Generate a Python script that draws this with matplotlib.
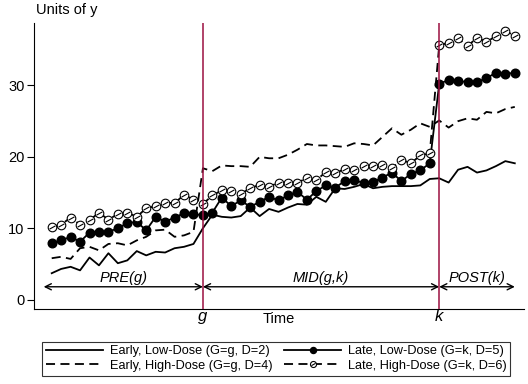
import matplotlib
matplotlib.use("Agg")
import matplotlib.pyplot as plt

# Data
periods = list(range(1, 51))
g_period = 17
k_period = 42

early_low = [3.7, 4.3, 4.6, 4.1, 5.9, 4.8, 6.5, 5.1, 5.5, 6.8, 6.2, 6.7, 6.6, 7.2, 7.4, 7.8,
             10.0, 11.9, 11.6, 11.5, 11.7, 12.9, 11.7, 12.7, 12.3, 12.9, 13.4, 13.3, 14.4,
             13.7, 15.6, 15.5, 15.8, 16.2, 15.6, 15.8, 15.9, 15.9, 15.9, 16.0, 16.9,
             17.0, 16.4, 18.2, 18.6, 17.8, 18.1, 18.7, 19.4, 19.1]

early_high = [5.8, 6.0, 5.7, 7.2, 7.4, 6.9, 7.8, 7.9, 7.6, 8.3, 8.8, 9.7, 9.8, 8.8, 9.0, 9.5,
              18.4, 18.0, 18.8, 18.7, 18.7, 18.6, 20.0, 19.8, 19.8, 20.3, 21.0, 21.8, 21.6,
              21.6, 21.5, 21.4, 21.9, 21.8, 21.6, 22.8, 24.0, 23.1, 23.8, 24.7, 24.2,
              25.1, 24.1, 25.0, 25.4, 25.2, 26.3, 26.1, 26.7, 27.0]

late_low = [7.9, 8.3, 8.8, 8.1, 9.4, 9.5, 9.5, 10.0, 10.7, 10.9, 9.7, 11.6, 10.9, 11.5, 12.1, 12.0,
            11.8, 12.2, 14.3, 13.1, 13.9, 13.0, 13.7, 14.4, 13.9, 14.6, 15.1, 14.0, 15.2,
            16.0, 15.7, 16.6, 16.8, 16.3, 16.5, 17.1, 17.8, 16.6, 17.6, 18.1, 19.1,
            30.2, 30.8, 30.6, 30.5, 30.5, 31.0, 31.8, 31.6, 31.8]

late_high = [10.2, 10.5, 11.5, 10.5, 11.1, 12.2, 11.2, 12.0, 12.2, 11.6, 12.8, 13.1, 13.6, 13.5, 14.7, 14.0,
             13.4, 14.6, 15.3, 15.2, 14.8, 15.6, 16.1, 15.8, 16.4, 16.4, 16.4, 17.0, 16.7,
             17.9, 17.7, 18.3, 18.1, 18.7, 18.7, 18.8, 18.4, 19.6, 19.1, 20.2, 20.5,
             35.6, 36.0, 36.6, 35.5, 36.7, 36.1, 36.9, 37.6, 37.0]

series_labels = ["Early, Low-Dose (G=g, D=2)", "Early, High-Dose (G=g, D=4)",
                 "Late, Low-Dose (G=k, D=5)", "Late, High-Dose (G=k, D=6)"]
y_ticks = [0, 10, 20, 30]
period_labels = ["PRE(g)", "MID(g,k)", "POST(k)"]

plt.rcParams["font.family"] = ["Liberation Sans", "DejaVu Sans"]

fig = plt.figure(figsize=(5.28, 3.84), dpi=100)
ax = fig.add_axes([0.065, 0.195, 0.927, 0.746])

dash = (0, (5, 3))
slash = [(-1.0, -0.55), (1.0, 0.55)]

h1, = ax.plot(periods, early_low, color="black", lw=1.3, label=series_labels[0])
h2, = ax.plot(periods, early_high, color="black", lw=1.3, linestyle=dash, label=series_labels[1])
h3, = ax.plot(periods, late_low, color="black", lw=1.3, marker="o", markersize=6.2,
              markerfacecolor="black", markeredgecolor="black", label=series_labels[2])
h4, = ax.plot(periods, late_high, color="black", lw=1.3, linestyle=dash, marker="o",
              markersize=6.2, markerfacecolor="white", markeredgecolor="black",
              markeredgewidth=0.8, label=series_labels[3])
h4s, = ax.plot(periods, late_high, linestyle="none", marker=slash, markersize=4.2,
               markeredgecolor="black", markeredgewidth=0.8)

# treatment timing lines
for p in [g_period, k_period]:
    ax.axvline(p, color="#9b1040", lw=1.1, zorder=5)

# period arrows
arrow_y = 1.8
spans = [(0.15, g_period), (g_period, k_period), (k_period, 50)]
for (a, b), lab in zip(spans, period_labels):
    ax.annotate("", xy=(b, arrow_y), xytext=(a, arrow_y),
                arrowprops=dict(arrowstyle="<->", color="black", lw=1.0,
                                mutation_scale=11, shrinkA=0, shrinkB=0))
    ax.text((a + b) / 2, arrow_y + 0.2, lab, ha="center", va="bottom",
            fontsize=10.5, style="italic")

ax.set_xlim(-0.84, 50.95)
ax.set_ylim(-1.33, 38.8)
ax.set_yticks(y_ticks)
ax.tick_params(axis="y", labelsize=10.5, length=5, width=0.8, pad=2)
ax.set_xticks([g_period, k_period])
ax.set_xticklabels(["g", "k"], fontsize=12, style="italic")
ax.tick_params(axis="x", length=0, pad=0)

ax.spines["top"].set_visible(False)
ax.spines["right"].set_visible(False)
ax.spines["left"].set_linewidth(0.8)
ax.spines["bottom"].set_linewidth(0.8)

ax.text(0.5, -0.01, "Time", transform=ax.transAxes, ha="center", va="top", fontsize=10.5)
fig.text(0.068, 0.973, "Units of y", ha="left", va="center", fontsize=10.5)

leg = fig.legend([h1, h2, h3, (h4, h4s)], series_labels, ncol=2,
                 loc="center", bbox_to_anchor=(0.523, 0.066),
                 fontsize=9.2, handlelength=4.5, columnspacing=0.9,
                 handletextpad=0.5, labelspacing=0.2, borderpad=0.3,
                 fancybox=False, edgecolor="black", markerscale=0.7)
leg.get_frame().set_linewidth(0.8)

fig.savefig("out.png", dpi=100)
